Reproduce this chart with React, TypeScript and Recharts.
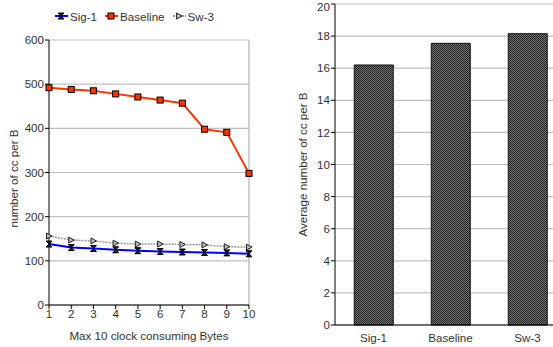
import React from "react";
import {
  LineChart,
  Line,
  BarChart,
  Bar,
  XAxis,
  YAxis,
  CartesianGrid,
  ReferenceLine,
  Legend,
  Label,
} from "recharts";

const bytes = [1, 2, 3, 4, 5, 6, 7, 8, 9, 10];
const sig1 = [138, 130, 128, 125, 123, 121, 120, 119, 118, 116];
const baseline = [492, 488, 485, 478, 471, 464, 457, 398, 391, 298];
const sw3 = [156, 147, 145, 140, 138, 138, 137, 136, 132, 131];
const lineTicks = [0, 100, 200, 300, 400, 500, 600];

const schemes = ["Sig-1", "Baseline", "Sw-3"];
const averages = [16.2, 17.55, 18.15];
const barTicks = [0, 2, 4, 6, 8, 10, 12, 14, 16, 18, 20];

const lineData = bytes.map((b, i) => ({
  x: b,
  sig1: sig1[i],
  baseline: baseline[i],
  sw3: sw3[i],
}));
const barData = schemes.map((s, i) => ({ name: s, value: averages[i] }));

const font = "'Liberation Sans', Arial, sans-serif";
const fs = 11.6;
const tickStyle = { fontSize: fs, fill: "#333", fontFamily: font };

function Bowtie({ cx, cy }: any) {
  if (cx == null || cy == null) return null;
  return (
    <path
      d={`M${cx - 3},${cy - 3}L${cx + 3},${cy - 3}L${cx - 3},${cy + 3}L${cx + 3},${cy + 3}Z`}
      fill="#222"
      stroke="#000"
      strokeWidth={1}
    />
  );
}

function Square({ cx, cy }: any) {
  if (cx == null || cy == null) return null;
  return <rect x={cx - 3} y={cy - 3} width={6} height={6} fill="#ff3300" stroke="#000" strokeWidth={1} />;
}

function Tri({ cx, cy }: any) {
  if (cx == null || cy == null) return null;
  return (
    <path
      d={`M${cx - 2.5},${cy - 3}L${cx + 3},${cy}L${cx - 2.5},${cy + 3}Z`}
      fill="#bbb"
      stroke="#222"
      strokeWidth={1}
    />
  );
}

function LegendContent() {
  const items = [
    { label: "Sig-1", color: "#0000ff", dash: undefined, Mark: Bowtie },
    { label: "Baseline", color: "#ff3300", dash: undefined, Mark: Square },
    { label: "Sw-3", color: "#999", dash: "2 1", Mark: Tri },
  ];
  return (
    <div style={{ display: "flex", fontFamily: font, fontSize: fs, color: "#333", paddingLeft: 54 }}>
      {items.map((it) => (
        <div key={it.label} style={{ display: "flex", alignItems: "center", marginRight: 7 }}>
          <svg width={15} height={14}>
            <line x1={1} x2={14} y1={7} y2={7} stroke={it.color} strokeWidth={2} strokeDasharray={it.dash} />
            <it.Mark cx={7} cy={7} />
          </svg>
          <span style={{ marginLeft: 1 }}>{it.label}</span>
        </div>
      ))}
    </div>
  );
}

export default function App() {
  return (
    <div
      style={{
        position: "absolute",
        left: 0,
        top: 0,
        width: 553,
        height: 347,
        overflow: "hidden",
        background: "#fff",
      }}
    >
      <div style={{ position: "absolute", left: 0, top: 0 }}>
        <LineChart width={260} height={347} data={lineData} margin={{ top: 40, right: 11, left: 0, bottom: 0 }}>
          <Legend verticalAlign="top" content={<LegendContent />} wrapperStyle={{ top: 9, left: 0, height: 0 }} />
          <CartesianGrid vertical={false} stroke="#c0c0c0" strokeWidth={1.2} />
          <ReferenceLine x={10} stroke="#c0c0c0" strokeWidth={1.5} />
          <XAxis
            dataKey="x"
            type="number"
            domain={[1, 10]}
            ticks={bytes}
            height={42}
            stroke="#000"
            tickSize={4}
            tick={tickStyle}
            tickMargin={1}
          >
            <Label
              value="Max 10 clock consuming Bytes"
              position="insideBottom"
              offset={7}
              style={{ fontSize: fs, fill: "#333", fontFamily: font }}
            />
          </XAxis>
          <YAxis
            domain={[0, 600]}
            ticks={lineTicks}
            width={49}
            stroke="#000"
            tickSize={4}
            tick={tickStyle}
            tickMargin={1}
          >
            <Label
              value="number of cc per B"
              angle={-90}
              position="insideLeft"
              offset={14}
              dy={6}
              style={{ fontSize: fs, fill: "#333", fontFamily: font, textAnchor: "middle" }}
            />
          </YAxis>
          <Line
            dataKey="sw3"
            stroke="#999"
            strokeWidth={1.5}
            strokeDasharray="2 1"
            dot={<Tri />}
            isAnimationActive={false}
          />
          <Line dataKey="sig1" stroke="#0000ff" strokeWidth={2} dot={<Bowtie />} isAnimationActive={false} />
          <Line dataKey="baseline" stroke="#ff3300" strokeWidth={2} dot={<Square />} isAnimationActive={false} />
        </LineChart>
      </div>
      <div style={{ position: "absolute", left: 280, top: 0 }}>
        <BarChart width={286} height={347} data={barData} margin={{ top: 4, right: 0, left: 0, bottom: 0 }} barCategoryGap="25%">
          <defs>
            <pattern id="hatch" width={2} height={2} patternUnits="userSpaceOnUse">
              <rect width={2} height={2} fill="#747474" />
              <rect width={1} height={1} fill="#222" />
              <rect x={1} y={1} width={1} height={1} fill="#222" />
            </pattern>
          </defs>
          <CartesianGrid vertical={false} stroke="#c0c0c0" strokeWidth={1.2} />
          <XAxis dataKey="name" height={22} stroke="#000" tickLine={false} tick={tickStyle} tickMargin={3} />
          <YAxis
            domain={[0, 20]}
            ticks={barTicks}
            width={55}
            stroke="#000"
            tickSize={4}
            tick={tickStyle}
            tickMargin={1}
          >
            <Label
              value="Average number of cc per B"
              angle={-90}
              position="insideLeft"
              offset={23}
              style={{ fontSize: fs, fill: "#333", fontFamily: font, textAnchor: "middle" }}
            />
          </YAxis>
          <Bar dataKey="value" fill="url(#hatch)" stroke="#111" strokeWidth={1} isAnimationActive={false} />
        </BarChart>
      </div>
    </div>
  );
}
